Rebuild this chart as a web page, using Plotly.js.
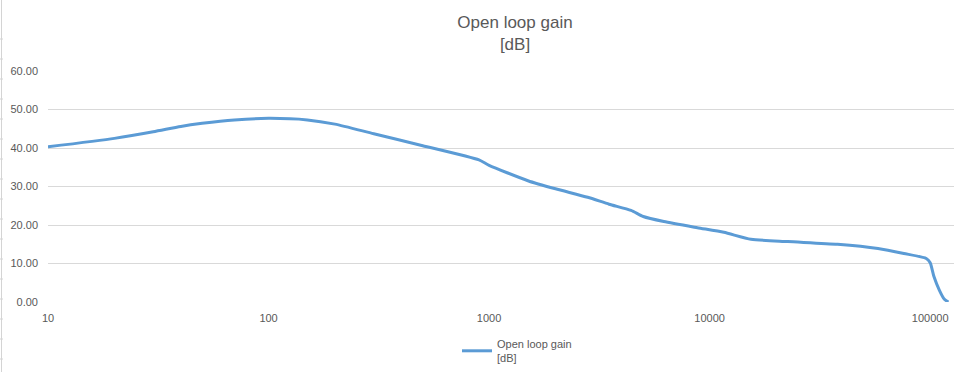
<!DOCTYPE html>
<html>
<head>
<meta charset="utf-8">
<script src="https://cdn.plot.ly/plotly-3.0.1.min.js"></script>
<style>
html,body{margin:0;padding:0;background:#fff;}
#chart{width:954px;height:372px;}
</style>
</head>
<body>
<div id="chart"></div>
<script>
// Data
var frequency = [10, 20, 30, 40, 50, 70, 100, 150, 200, 300, 500, 900, 1000, 1500, 2000, 2800, 3500, 4400, 5000, 6200, 8800, 11600, 15400, 22600, 38000, 58000, 76000, 96000, 100000, 104000, 110000, 116000, 121000];
var gainDb    = [40.3, 42.5, 44.2, 45.6, 46.4, 47.3, 47.7, 47.3, 46.2, 43.7, 40.6, 36.9, 35.5, 31.5, 29.4, 27.2, 25.4, 23.8, 22.2, 20.9, 19.3, 18.1, 16.3, 15.7, 15.0, 13.9, 12.6, 11.3, 10.2, 6.6, 3.1, 0.7, 0.0];
var xTickVals = [10, 100, 1000, 10000, 100000];
var xTickText = ["10", "100", "1000", "10000", "100000"];
var seriesName = "Open loop gain<br>[dB]";
var chartTitle = "Open loop gain<br>[dB]";

var textColor = "#595959";
var font = "Liberation Sans, Arial, sans-serif";

var trace = {
  x: frequency,
  y: gainDb,
  type: "scatter",
  mode: "lines",
  name: seriesName,
  line: {color: "#5B9BD5", width: 3, shape: "spline", smoothing: 0.6},
  hoverinfo: "x+y"
};

// decorative left border artifact with small ticks
var shapes = [{
  type: "line", xref: "paper", yref: "paper",
  x0: (1.5 - 48) / 906, x1: (1.5 - 48) / 906,
  y0: (302 - 372) / 231, y1: 302 / 231,
  line: {color: "#D4D4D4", width: 1}
}];
for (var py = 39; py < 372; py += 20) {
  shapes.push({
    type: "line", xref: "paper", yref: "paper",
    x0: (0 - 48) / 906, x1: (3 - 48) / 906,
    y0: (302 - py) / 231, y1: (302 - py) / 231,
    line: {color: "#D4D4D4", width: 1}
  });
}

var layout = {
  width: 954, height: 372,
  margin: {l: 48, r: 0, t: 71, b: 70},
  paper_bgcolor: "#ffffff",
  plot_bgcolor: "#ffffff",
  font: {family: font, color: textColor, size: 11},
  title: {
    text: chartTitle,
    font: {family: font, size: 17, color: textColor},
    x: 515 / 954, xref: "container", xanchor: "center",
    y: 1 - 28 / 372, yref: "container", yanchor: "top"
  },
  xaxis: {
    type: "log",
    range: [1, 5.108],
    tickvals: xTickVals,
    ticktext: xTickText,
    showgrid: false,
    zeroline: false,
    showline: false,
    ticks: "",
    tickfont: {family: font, size: 11, color: textColor},
    ticklabelstandoff: 8
  },
  yaxis: {
    range: [0, 60],
    dtick: 10,
    tick0: 0,
    tickformat: ".2f",
    showgrid: true,
    gridcolor: "#D9D9D9",
    gridwidth: 1,
    zeroline: false,
    showline: false,
    ticks: "",
    tickfont: {family: font, size: 11, color: textColor},
    ticklabelstandoff: 9
  },
  showlegend: true,
  legend: {
    orientation: "h",
    xref: "container", yref: "container",
    x: 457 / 954, xanchor: "left",
    y: 1 - 330 / 372, yanchor: "top",
    font: {family: font, size: 11, color: textColor},
    bgcolor: "rgba(0,0,0,0)"
  },
  shapes: shapes
};

Plotly.newPlot("chart", [trace], layout, {displayModeBar: false, staticPlot: true});
</script>
</body>
</html>
